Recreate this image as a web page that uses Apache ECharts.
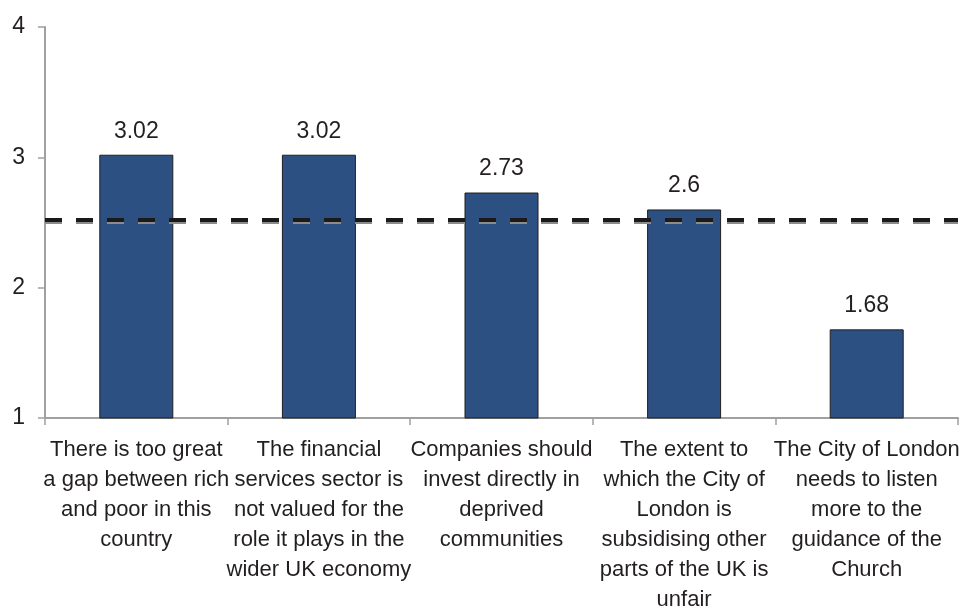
<!DOCTYPE html>
<html>
<head>
<meta charset="utf-8">
<script src="https://cdn.jsdelivr.net/npm/echarts@6/dist/echarts.min.js"></script>
<style>
  html, body { margin: 0; padding: 0; background: #fff; overflow: hidden; }
  #chart { width: 959px; height: 612px; }
</style>
</head>
<body>
<div id="chart"></div>
<script>
// Statements shown along the category axis
const categories = [
  'There is too great\na gap between rich\nand poor in this\ncountry',
  'The financial\nservices sector is\nnot valued for the\nrole it plays in the\nwider UK economy',
  'Companies should\ninvest directly in\ndeprived\ncommunities',
  'The extent to\nwhich the City of\nLondon is\nsubsidising other\nparts of the UK is\nunfair',
  'The City of London\nneeds to listen\nmore to the\nguidance of the\nChurch'
];

// Mean agreement score per statement
const meanScores = [3.02, 3.02, 2.73, 2.6, 1.68];

// Reference levels drawn as dashed lines across the plot
const referenceLevel = 2.516;
const referenceShadowLevel = 2.5;

// Value axis ticks
const yTicks = [1, 2, 3, 4];

const FONT = "'Liberation Sans', Arial, sans-serif";
const chart = echarts.init(document.getElementById('chart'));

chart.setOption({
  animation: false,
  grid: { left: 45, right: 1, top: 27, bottom: 194, containLabel: false, outerBoundsMode: 'none' },
  xAxis: {
    type: 'category',
    data: categories,
    axisLine: { lineStyle: { color: '#a0a0a0', width: 2 } },
    axisTick: { show: true, length: 7, lineStyle: { color: '#a0a0a0', width: 1.5 } },
    axisLabel: {
      interval: 0,
      color: '#231f20',
      fontFamily: FONT,
      fontSize: 22,
      lineHeight: 30,
      margin: 17,
      align: 'center'
    }
  },
  yAxis: {
    type: 'value',
    min: yTicks[0],
    max: yTicks[yTicks.length - 1],
    interval: 1,
    splitLine: { show: false },
    axisLine: { show: true, lineStyle: { color: '#a0a0a0', width: 2 } },
    axisTick: { show: true, length: 7, lineStyle: { color: '#a0a0a0', width: 1.5 } },
    axisLabel: {
      color: '#231f20',
      fontFamily: FONT,
      fontSize: 23,
      margin: 20
    }
  },
  series: [{
    type: 'bar',
    data: meanScores,
    barWidth: 74,
    itemStyle: { color: '#2c5082', borderColor: '#1f1f1f', borderWidth: 1 },
    label: {
      show: true,
      position: 'top',
      distance: 12,
      color: '#231f20',
      fontFamily: FONT,
      fontSize: 23
    },
    markLine: {
      silent: true,
      symbol: 'none',
      label: { show: false },
      data: [
        { yAxis: referenceShadowLevel, lineStyle: { color: '#8c8c8c', width: 3, type: [17, 14] } },
        { yAxis: referenceLevel, lineStyle: { color: '#1a1a1a', width: 4, type: [17, 14] } }
      ]
    }
  }]
});
</script>
</body>
</html>
